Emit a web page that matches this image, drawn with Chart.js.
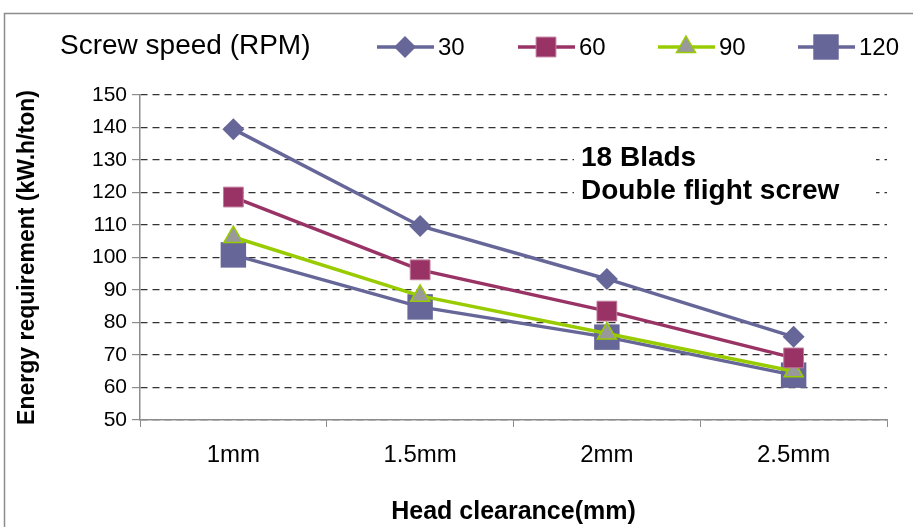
<!DOCTYPE html>
<html>
<head>
<meta charset="utf-8">
<script src="https://cdn.jsdelivr.net/npm/chart.js@4.4.1/dist/chart.umd.min.js"></script>
<style>
  html, body { margin: 0; padding: 0; background: #fff; overflow: hidden; }
  #chartCanvas { display: block; }
</style>
</head>
<body>
<canvas id="chartCanvas" width="913" height="527"></canvas>
<script>
// data
const clearances = ['1mm', '1.5mm', '2mm', '2.5mm'];
const rpm30 = [139.5, 109.7, 93.4, 75.6];
const rpm60 = [118.6, 96.2, 83.5, 69.1];
const rpm90 = [106.3, 88.2, 76.6, 65.0];
const rpm120 = [100.8, 84.8, 75.5, 63.8];
const yTicks = [50, 60, 70, 80, 90, 100, 110, 120, 130, 140, 150];

const blueColor = '#666699';
const plumColor = '#993366';
const limeColor = '#99CC00';
const greyFill = '#999999';
const axisGrey = '#8c8c8c';
const fontName = '"Liberation Sans", Arial, sans-serif';

Chart.defaults.font.family = fontName;
Chart.defaults.color = '#000';

function drawMarker(c, style, x, y, r) {
    if (style === 'rectRot') {
        c.moveTo(x, y - r); c.lineTo(x + r, y); c.lineTo(x, y + r); c.lineTo(x - r, y); c.closePath();
    } else if (style === 'rect') {
        const s = r * Math.SQRT1_2;
        c.rect(x - s, y - s, 2 * s, 2 * s);
    } else if (style === 'triangle') {
        c.moveTo(x, y - r); c.lineTo(x + r * 0.866, y + r * 0.5); c.lineTo(x - r * 0.866, y + r * 0.5); c.closePath();
    }
}

// frame, legend and the in-plot note
const decorPlugin = {
    id: 'decor',
    beforeDraw(chart) {
        const c = chart.ctx;
        c.save();
        c.fillStyle = '#fff';
        c.fillRect(0, 0, chart.width, chart.height);
        c.strokeStyle = axisGrey;
        c.lineWidth = 1.5;
        c.strokeRect(4.5, 13.5, chart.width + 10, chart.height + 10);
        c.restore();
    },
    beforeDatasetsDraw(chart) {
        // the note sits in a white box over the grid
        const c = chart.ctx;
        c.save();
        c.fillStyle = '#fff';
        c.fillRect(574, 140, 302, 68);
        c.restore();
    },
    afterDraw(chart) {
        const c = chart.ctx;
        c.save();
        c.fillStyle = '#000';
        c.textBaseline = 'middle';
        c.font = '28px ' + fontName;
        c.fillText('Screw speed (RPM)', 60, 46);

        c.font = 'bold 28px ' + fontName;
        c.fillText('18 Blads', 581, 158);
        c.fillText('Double flight screw', 581, 191);

        // legend entries, taken from the datasets
        const startX = [377, 518, 658, 798];
        c.font = '24px ' + fontName;
        chart.data.datasets.forEach((ds, i) => {
            const x0 = startX[i], y0 = 47;
            c.strokeStyle = ds.borderColor;
            c.lineWidth = 3.5;
            c.beginPath();
            c.moveTo(x0, y0);
            c.lineTo(x0 + 57, y0);
            c.stroke();
            c.fillStyle = ds.pointBackgroundColor;
            c.strokeStyle = ds.pointBorderColor;
            c.lineWidth = ds.pointBorderWidth;
            c.beginPath();
            drawMarker(c, ds.pointStyle, x0 + 28, y0, ds.pointRadius);
            c.fill();
            if (ds.pointBorderWidth) c.stroke();
            c.fillStyle = '#000';
            c.fillText(ds.label, x0 + 61, y0 + 1);
        });
        c.restore();
    }
};

function series(label, data, color, style, radius, fill, border, borderW) {
    return {
        label: label,
        data: data,
        borderColor: color,
        borderWidth: 3.5,
        pointStyle: style,
        pointRadius: radius,
        pointHoverRadius: radius,
        pointBackgroundColor: fill,
        pointBorderColor: border,
        pointBorderWidth: borderW,
        tension: 0
    };
}

const ctx = document.getElementById('chartCanvas').getContext('2d');
new Chart(ctx, {
    type: 'line',
    data: {
        labels: clearances,
        datasets: [
            series('30', rpm30, blueColor, 'rectRot', 11, blueColor, blueColor, 0),
            series('60', rpm60, plumColor, 'rect', 14, plumColor, '#c07a9c', 1),
            series('90', rpm90, limeColor, 'triangle', 11, greyFill, limeColor, 1.5),
            series('120', rpm120, blueColor, 'rect', 18, blueColor, blueColor, 0)
        ]
    },
    options: {
        responsive: false,
        animation: false,
        events: [],
        layout: { padding: { left: 0, top: 95, right: 26, bottom: 0 } },
        plugins: {
            legend: { display: false },
            tooltip: { enabled: false }
        },
        scales: {
            x: {
                offset: true,
                afterFit(scale) { scale.height = 107; },
                grid: {
                    offset: true,
                    drawOnChartArea: false,
                    drawTicks: true,
                    tickLength: 7,
                    color: axisGrey
                },
                border: { color: axisGrey, width: 1.5 },
                ticks: { font: { size: 24 }, color: '#000', padding: 14 },
                title: {
                    display: true,
                    text: 'Head clearance(mm)',
                    font: { size: 25, weight: 'bold' },
                    color: '#000',
                    padding: { top: 20, bottom: 0 }
                }
            },
            y: {
                min: 50,
                max: 150,
                afterFit(scale) { scale.width = 140; },
                afterBuildTicks(scale) { scale.ticks = yTicks.map(v => ({ value: v })); },
                grid: {
                    color: '#333',
                    lineWidth: 1.2,
                    tickLength: 8,
                    drawTicks: true,
                    tickColor: axisGrey,
                    tickBorderDash: [],
                    tickWidth: 1.2
                },
                border: { color: axisGrey, width: 1.5, dash: [7, 5] },
                ticks: { font: { size: 21 }, color: '#000', padding: 5 },
                title: {
                    display: true,
                    text: 'Energy requirement (kW.h/ton)',
                    font: { size: 23, weight: 'bold' },
                    color: '#000',
                    padding: { top: 14, bottom: 0 }
                }
            }
        }
    },
    plugins: [decorPlugin]
});
</script>
</body>
</html>
